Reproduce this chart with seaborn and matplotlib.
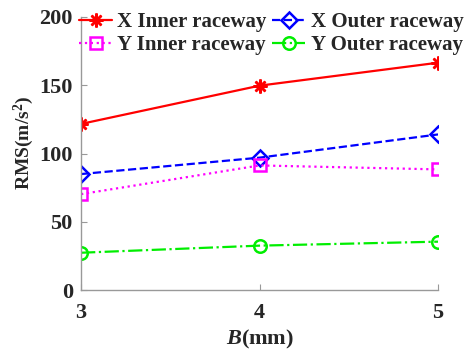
import seaborn as sns
import pandas as pd
import matplotlib.pyplot as plt

# Data
b_mm = [3, 4, 5]
x_inner = [121.7, 149.7, 166.5]
x_outer = [85.0, 97.0, 114.0]
y_inner = [70.3, 91.3, 88.4]
y_outer = [27.4, 32.6, 35.5]

series_names = ['X Inner raceway', 'X Outer raceway', 'Y Inner raceway', 'Y Outer raceway']

df = pd.DataFrame({
    'B': b_mm * 4,
    'RMS': x_inner + x_outer + y_inner + y_outer,
    'series': [n for n in series_names for _ in b_mm],
})

sns.set_style('ticks')
plt.rcParams['font.family'] = ['Liberation Serif', 'DejaVu Serif']
plt.rcParams['font.weight'] = 'bold'
plt.rcParams['mathtext.fontset'] = 'custom'
plt.rcParams['mathtext.rm'] = 'Liberation Serif:bold'
plt.rcParams['mathtext.it'] = 'Liberation Serif:italic:bold'
plt.rcParams['mathtext.bf'] = 'Liberation Serif:bold'

styles = {
    'X Inner raceway': dict(color='#ff0000', marker=(8, 2, 0), linestyle='-', mfc='#ff0000', ms=10),
    'X Outer raceway': dict(color='#0000ff', marker='D', linestyle='--', mfc='none', ms=8),
    'Y Inner raceway': dict(color='#ff00ff', marker='s', linestyle=':', mfc='none', ms=8),
    'Y Outer raceway': dict(color='#00ee00', marker='o', linestyle='-.', mfc='none', ms=9),
}

fig = plt.figure(figsize=(4.66, 3.53), dpi=100)
ax = fig.add_axes([0.174, 0.178, 0.766, 0.774])

for name in series_names:
    s = styles[name]
    sub = df[df['series'] == name]
    sns.lineplot(data=sub, x='B', y='RMS', ax=ax, color=s['color'], marker=s['marker'],
                 linestyle=s['linestyle'], markerfacecolor=s['mfc'], markeredgecolor=s['color'],
                 markersize=s['ms'], markeredgewidth=1.8, linewidth=1.6, label=name)

ax.set_xlim(3, 5)
ax.set_ylim(0, 200)
ax.set_xticks([3, 4, 5])
ax.set_yticks([0, 50, 100, 150, 200])
ax.tick_params(direction='in', labelsize=16, color='#999999', length=4, pad=6)
ax.tick_params(axis='x', pad=9)
for t in ax.get_xticklabels() + ax.get_yticklabels():
    t.set_fontweight('bold')
for sp in ['top', 'right']:
    ax.spines[sp].set_visible(False)
for sp in ['left', 'bottom']:
    ax.spines[sp].set_color('#999999')
    ax.spines[sp].set_linewidth(1.0)

ax.set_xlabel('$B$(mm)', fontsize=16, fontweight='bold', labelpad=4)
ax.set_ylabel('RMS(m/s$^2$)', fontsize=14, fontweight='bold', labelpad=3)
ax.yaxis.set_label_coords(-0.125, 0.54)

handles, labels = ax.get_legend_handles_labels()
order = [0, 2, 1, 3]
ax.legend([handles[i] for i in order], [labels[i] for i in order], ncol=2, frameon=False,
          loc='upper left', bbox_to_anchor=(-0.012, 1.025), prop={'size': 15, 'weight': 'bold'},
          handlelength=1.6, handletextpad=0.25, columnspacing=0.25, labelspacing=0.15,
          borderaxespad=0.0, borderpad=0.1)

fig.savefig('out.png', dpi=100)
